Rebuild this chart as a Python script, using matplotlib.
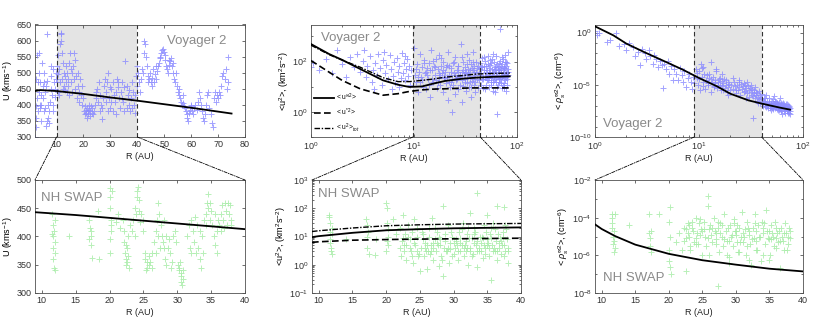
import numpy as np
import matplotlib
matplotlib.use('Agg')
import matplotlib.pyplot as plt
from matplotlib.patches import ConnectionPatch
from matplotlib.ticker import LogLocator, NullFormatter
from matplotlib.lines import Line2D

plt.rcParams['font.family'] = ['Liberation Sans', 'DejaVu Sans']
plt.rcParams['mathtext.fontset'] = 'custom'
plt.rcParams['mathtext.rm'] = 'Liberation Sans'
plt.rcParams['mathtext.it'] = 'Liberation Sans:italic'
plt.rcParams['mathtext.bf'] = 'Liberation Sans:bold'
plt.rcParams['mathtext.sf'] = 'Liberation Sans'

# ---------------- Voyager 2 : solar wind speed ----------------
voy_u_r = [
    2.1, 2.2, 2.3, 2.4, 2.5, 2.6, 2.8, 3.0, 3.2, 3.3,
    3.4, 3.6, 3.7, 3.9, 4.0, 4.1, 4.3, 4.4, 4.6, 4.8,
    5.0, 5.2, 5.3, 5.5, 5.6, 5.8, 6.0, 6.2, 6.3, 6.5,
    6.6, 6.8, 7.0, 7.2, 7.3, 7.5, 7.8, 8.0, 8.1, 8.3,
    8.5, 8.6, 8.8, 9.0, 9.3,
    9.5, 9.7, 9.9, 10.1, 10.2, 10.4, 10.5, 10.7, 10.9, 11.0,
    11.2, 11.3, 11.5, 11.6, 11.8, 12.0, 12.1, 12.3, 12.5, 12.7,
    12.9, 13.0, 13.2, 13.4, 13.6, 13.8, 14.0, 14.2, 14.4, 14.5,
    14.8, 15.0, 15.2, 15.4, 15.6, 15.8, 16.0, 16.3, 16.5, 16.8,
    17.0, 17.3, 17.5, 17.8, 18.0, 18.3, 18.5, 18.8, 19.0, 19.3,
    19.6, 19.9,
    20.2, 20.4, 20.6, 20.8, 21.0, 21.2, 21.4, 21.6, 21.8, 22.0,
    22.2, 22.4, 22.6, 22.8, 23.0, 23.3, 23.6, 23.9, 24.2, 24.5,
    24.8, 25.0, 25.3,
    25.6, 26.0, 26.4, 26.8, 27.2, 27.6, 28.0, 28.4, 28.8, 29.2,
    29.6, 30.0, 30.4, 30.8, 31.2, 31.6, 32.0, 32.4, 32.8, 33.2,
    33.6, 34.0, 34.4, 34.8, 35.2, 35.6, 36.0, 36.4, 36.8, 37.2,
    37.6, 38.0, 38.4, 38.8, 39.2, 39.6, 40.0, 40.3, 39.8,
    26.2, 27.0, 28.2, 29.0, 30.2, 31.0, 32.2, 33.0, 34.2, 35.0,
    36.2, 37.0, 38.2, 39.0, 29.8,
    40.6, 41.0, 41.3, 41.6, 42.0, 42.3, 42.6, 42.9, 43.2, 43.5,
    43.8, 44.1, 44.4, 44.7, 45.0, 45.3, 45.6, 45.9, 46.2, 46.5,
    46.8, 47.1, 47.4, 47.7, 48.0,
    48.3, 48.6, 48.9, 49.2, 49.5, 49.8, 50.1, 50.4, 50.7, 51.0,
    51.3, 51.6, 51.9, 52.2, 52.5, 52.8, 53.1, 53.4, 53.7, 54.0,
    54.3, 54.6,
    55.0, 55.3, 55.6, 55.9, 56.2, 56.5, 56.8, 57.1, 57.4, 57.7,
    58.0, 58.3, 58.6, 58.9, 59.2, 59.5, 59.8, 60.1, 60.4, 60.7,
    61.0, 61.5, 62.0,
    62.5, 63.0, 63.3, 63.6, 64.0, 64.4, 64.8, 65.2, 65.6, 66.0,
    66.4, 66.8, 67.2, 67.6, 68.0, 68.4, 68.8, 69.2, 69.6, 70.0,
    70.4, 70.8, 71.2, 71.6, 72.0, 72.4, 72.8, 73.2, 73.5, 73.7,
]
voy_u = [
    300, 330, 360, 395, 480, 420, 555, 470, 380, 560,
    440, 500, 390, 470, 400, 350, 400, 430, 530, 460,
    420, 500, 380, 470, 390, 440, 335, 460, 350, 475,
    620, 400, 360, 345, 380, 410, 490, 450, 520, 430,
    400, 510, 380, 470, 425,
    450, 500, 480, 520, 470, 440, 555, 495, 430, 510,
    470, 590, 600, 620, 625, 560, 480, 450, 530, 500,
    460, 445, 490, 520, 470, 440, 500, 460, 480, 430,
    530, 560, 510, 470, 440, 500, 520, 560, 480, 450,
    540, 490, 420, 460, 500, 440, 410, 480, 430, 460,
    400, 420,
    380, 370, 395, 385, 375, 360, 390, 380, 370, 400,
    385, 365, 380, 395, 375, 390, 370, 380, 400, 440,
    420, 450, 410,
    470, 430, 400, 355, 420, 460, 480, 440, 470, 500,
    420, 390, 450, 470, 430, 410, 440, 480, 455, 420,
    390, 440, 470, 410, 380, 535, 460, 430, 400, 380,
    420, 470, 440, 400, 375, 490, 520, 500, 460,
    380, 390, 410, 380, 410, 380, 370, 470, 420, 455,
    390, 445, 390, 430, 455,
    470, 440, 480, 510, 500, 560, 598, 590, 550, 520,
    490, 470, 480, 500, 470, 460, 485, 510, 470, 495,
    520, 480, 505, 520, 530,
    545, 550, 560, 570, 575, 565, 555, 540, 520, 510,
    500, 525, 540, 535, 545, 520, 500, 530, 480, 470,
    500, 460,
    440, 430, 450, 420, 410, 400, 430, 405, 395, 390,
    380, 370, 360, 350, 375, 385, 400, 395, 380, 370,
    390, 400, 385,
    410, 440, 420, 400, 380, 360, 350, 370, 400, 430,
    440, 390, 370, 345, 330, 420, 440, 410, 430, 420,
    440, 430, 460, 490, 500, 480, 510, 450, 550, 470,
]
voy_u_model_r = [2, 4, 6, 10, 20, 30, 40, 50, 60, 75]
voy_u_model = [443, 446, 445, 443, 434, 423, 413, 402, 391, 373]

# ---------------- Voyager 2 : velocity fluctuation energy ----------------
voy_e_r = [
    1.0, 1.05, 1.2, 1.4, 1.6, 1.8, 2.0, 2.2, 2.4, 2.6, 2.8, 3.0,
    3.2, 3.4, 3.5, 3.7, 3.9, 4.0, 4.2, 4.4, 4.5, 4.7,
    4.9, 5.0, 5.2, 5.4, 5.6, 5.8, 6.0, 6.2, 6.4, 6.6,
    6.8, 7.0, 7.2, 7.4, 7.6, 7.8, 8.0, 8.2, 8.4, 8.6,
    8.8, 9.0, 9.2, 9.4, 5.1, 6.1, 7.1, 4.1, 3.3, 8.1,
    10.0, 10.2, 10.5, 10.8, 11.0, 11.2, 11.5, 11.8, 12.0, 12.2,
    12.5, 12.8, 13.0, 13.3, 13.6, 14.0, 14.3, 14.6, 15.0, 15.3,
    15.6, 16.0, 16.3, 16.6, 17.0, 17.3, 17.6, 18.0, 18.3, 18.6,
    19.0, 19.3, 19.6, 20.0, 20.4, 20.8, 21.2, 21.6, 22.0, 22.4,
    22.8, 23.2, 23.6, 24.0, 24.4, 24.8, 25.2, 25.6, 26.0, 26.5,
    27.0, 27.5, 28.0, 28.5, 29.0, 29.5, 30.0, 30.5, 31.0, 31.5,
    32.0, 32.5, 33.0, 33.5, 34.0, 34.5, 35.0, 35.5, 36.0, 36.5,
    37.0, 37.5, 38.0, 38.5, 39.0, 39.5, 40.0, 40.5, 41.0, 42.0,
    43.0,
    11, 13, 15, 17, 19, 21, 23, 25, 27, 29,
    31, 33, 35, 37, 39, 12, 16, 20, 24, 28,
    32, 36, 14, 18, 22, 26, 30, 34, 38,
    44, 45, 46, 47, 48, 49, 50, 51, 52, 53,
    54, 55, 56, 57, 58, 59, 60, 61, 62, 63,
    64, 65, 66, 67, 68, 69, 70, 71, 72, 73,
    74, 75, 76, 77, 78, 79, 80, 81, 82,
    44.5, 45.5, 46.5, 47.5, 48.5, 49.5, 50.5, 51.5, 52.5, 53.5,
    54.5, 55.5, 56.5, 57.5, 58.5, 59.5, 60.5, 61.5, 62.5, 63.5,
    64.5, 65.5, 66.5, 67.5, 68.5, 69.5, 70.5, 71.5, 72.5, 73.5,
    74.5, 75.5, 76.5, 77.5, 78.5, 79.5, 80.5, 81.5,
    42.5, 43.5, 44.2, 45.2, 46.2, 47.2, 48.2, 49.2, 50.2, 51.2,
    52.2, 53.2, 54.2, 55.2, 56.2, 57.2, 58.2, 59.2, 60.2, 61.2,
    62.2, 63.2, 64.2, 65.2, 66.2, 67.2, 68.2, 69.2, 70.2, 71.2,
    72.2, 73.2, 74.2, 75.2, 76.2, 77.2, 78.2, 79.2, 80.2, 81.2,
    10.4, 11.4, 12.4, 13.4, 14.4, 15.4, 16.4, 17.4, 18.4, 19.4,
    20.6, 21.8, 23.0, 24.2, 25.4, 26.6, 27.8, 29.0, 30.2, 31.4,
    32.6, 33.8, 35.0, 36.2, 37.4, 38.6, 39.8, 41.5,
]
voy_e = [
    60, 90, 45, 130, 35, 290, 80, 25, 150, 60, 200, 40,
    110, 25, 70, 160, 15, 45, 90, 30, 200, 55,
    12, 120, 35, 75, 20, 180, 50, 28, 95, 14,
    140, 40, 65, 22, 220, 35, 85, 18, 50, 130,
    27, 70, 12, 45, 250, 8, 10, 8, 300, 160,
    350, 30, 15, 80, 6, 40, 200, 25, 60, 10,
    120, 35, 8, 55, 20, 90, 4, 300, 45, 15,
    70, 30, 130, 9, 50, 22, 180, 12, 65, 35,
    6, 100, 25, 40, 14, 75, 3, 250, 30, 10,
    55, 20, 1, 85, 35, 5, 150, 18, 45, 8,
    70, 25, 12, 500, 40, 2.5, 95, 30, 15, 60,
    7, 200, 22, 50, 10, 120, 28, 4, 80, 17,
    45, 250, 12, 65, 30, 6, 100, 20, 55, 9,
    35,
    25, 40, 20, 15, 45, 25, 15, 30, 40, 18,
    35, 14, 45, 20, 15, 18, 60, 22, 12, 28,
    38, 10, 12, 30, 70, 20, 11, 32, 40,
    30, 12, 60, 25, 150, 8, 40, 18, 80, 35,
    10, 120, 22, 50, 15, 200, 30, 6, 70, 25,
    0.8, 45, 12, 90, 20, 2000, 35, 9, 150, 28,
    55, 14, 100, 30, 7, 65, 20, 40, 250,
    60, 20, 9, 45, 25, 70, 12, 30, 18, 55,
    40, 15, 90, 28, 7, 45, 60, 20, 35, 10,
    80, 25, 40, 15, 55, 22, 70, 30, 12, 45,
    25, 60, 18, 35, 100, 28, 12, 50,
    18, 50, 90, 35, 140, 20, 65, 110, 25, 45,
    160, 22, 75, 30, 12, 130, 40, 18, 100, 50,
    15, 170, 28, 60, 20, 45, 110, 14, 50, 80,
    24, 130, 38, 9, 55, 180, 25, 40, 90, 30,
    50, 15, 90, 30, 45, 110, 18, 35, 140, 25,
    60, 16, 40, 100, 22, 65, 30, 150, 45, 20,
    80, 35, 15, 55, 100, 25, 40, 70,
]
voy_model_r = [1, 1.5, 2, 3, 5, 7, 9, 12, 15, 20, 30, 40, 60, 85]
voy_e_inf = [500, 200, 118, 51, 18, 12, 9.8, 10.3, 13, 17, 21, 23, 25, 26]
voy_e_star = [110, 38, 18, 8.3, 4.6, 5.3, 6.5, 7.5, 8, 8.3, 8.8, 9, 9, 9]
voy_e_tot = [450, 190, 115, 60, 23, 16, 16, 18, 20, 24, 28, 32, 34, 35]

# ---------------- Voyager 2 : density fluctuations ----------------
voy_d_r = [
    1.0, 1.05, 1.1, 1.3, 1.4, 1.6, 1.7, 1.9, 2.0, 2.1,
    2.3, 2.4, 2.6, 2.7, 2.8, 3.0, 3.1, 3.3, 3.4, 3.6,
    3.7, 3.9, 4.0, 4.2, 4.4, 4.5, 4.6, 4.8, 5.0, 5.2,
    5.4, 5.6, 5.8, 6.0, 6.3, 6.5, 6.8, 7.0, 7.2, 7.5,
    7.8, 8.0, 8.3, 8.6, 8.8, 9.0,
    9.3, 9.5, 9.8, 10.0, 10.3, 10.6, 10.9, 11.2, 11.5, 11.8,
    12.0, 12.3, 12.6, 12.9, 13.2, 13.5, 13.8, 14.1, 14.4, 14.7,
    15.0, 15.3, 15.6, 15.9, 16.2, 16.5, 16.8, 17.1, 17.4, 17.7,
    18.0, 18.4, 18.8, 19.2, 19.6, 20.0, 10.1, 11.0, 12.2, 13.0,
    14.0, 15.1, 16.0, 17.0, 18.2, 19.0, 9.6, 10.8, 12.5,
    11.0, 13.0, 14.5, 16.8, 10.5,
    20.5, 21, 21.5, 22, 22.5, 23, 23.5, 24, 24.5, 25,
    25.5, 26, 26.5, 27, 27.5, 28, 28.5, 29, 29.5, 30,
    30.5, 31, 31.5, 32, 32.5, 33, 33.5, 34, 34.5, 35,
    35.5, 36, 36.5, 37, 37.5, 38, 38.5, 39, 39.5, 40,
    21.2, 24.2, 26.8, 29.2, 31.8, 34.8, 22.8, 27.8, 32.8, 36.8,
    40.5, 41, 42, 43, 44, 45, 46, 47, 48, 49,
    50, 51, 52, 53, 54, 55, 56, 57, 58, 59,
    60, 61, 62, 63, 64, 65, 66, 67, 68, 69,
    70, 71, 72, 73, 74, 75, 41.5, 43.5, 45.5, 47.5,
    49.5, 51.5, 53.5, 55.5, 57.5, 59.5, 61.5, 63.5, 65.5, 67.5,
    69.5, 71.5, 73.5, 74.5, 44.5, 52.5, 60.5,
    40.8, 42.5, 44.0, 45.8, 47.8, 49.8, 51.8, 53.8, 55.8, 57.8,
    59.8, 61.8, 63.8, 65.8, 67.8, 69.8, 71.8, 73.8, 42.8, 46.8,
    50.8, 54.8, 58.8, 62.8, 66.8, 70.8, 74.8, 48.8, 56.8, 64.8,
]
voy_d = [
    1.5, 0.6, 0.9, 0.12, 0.2, 1.0, 0.05, 0.08, 0.02, 0.1,
    0.04, 0.006, 0.015, 8e-4, 0.03, 0.01, 0.003, 0.02, 0.006, 0.001,
    0.008, 0.003, 5e-4, 0.002, 8e-4, 5e-6, 0.001, 3e-4, 0.002, 1e-4,
    6e-4, 3e-5, 3e-4, 1e-4, 3e-5, 4e-4, 8e-5, 2e-5, 2e-4, 6e-6,
    5e-5, 1e-4, 2e-5, 4e-6, 6e-5, 1.5e-5,
    3e-4, 5e-5, 1e-5, 2e-4, 3e-6, 6e-5, 2e-5, 1e-4, 4e-6, 3e-5,
    8e-5, 1e-5, 5e-5, 2e-6, 2e-5, 6e-5, 8e-6, 3e-5, 1.5e-5, 3e-4,
    5e-6, 2e-5, 4e-5, 1e-5, 3e-6, 2.5e-5, 7e-6, 1.5e-5, 4e-5, 5e-6,
    1e-5, 2e-6, 2e-5, 6e-6, 1.2e-5, 3e-6, 4e-5, 8e-6, 1.5e-5, 4e-5,
    6e-6, 1e-5, 5e-5, 3e-6, 3e-5, 1e-6, 1.5e-4, 4e-4, 1.2e-4,
    5e-4, 1.5e-3, 2e-4, 1e-4, 1e-3,
    1e-5, 4e-6, 2e-5, 8e-6, 1.5e-6, 1e-5, 3e-6, 2e-5, 6e-6, 1e-6,
    1.2e-5, 4e-6, 8e-6, 2e-6, 1e-5, 5e-7, 5e-6, 1.5e-6, 8e-6, 3e-6,
    7e-7, 5e-6, 2e-6, 1e-6, 4e-6, 6e-9, 1.5e-6, 3e-6, 5e-7, 2e-6,
    1e-6, 3e-7, 1.5e-6, 7e-7, 2.5e-6, 4e-7, 1e-6, 2e-7, 6e-7, 1.2e-6,
    5e-5, 3e-5, 1.5e-5, 2e-5, 1e-5, 6e-6, 3e-6, 2.5e-6, 8e-7, 2e-7,
    4e-7, 1e-7, 6e-7, 2e-7, 8e-8, 3e-7, 1.2e-7, 5e-7, 6e-8, 2e-7,
    1e-7, 4e-7, 5e-8, 1.5e-7, 3e-7, 8e-8, 2e-7, 4e-8, 1e-7, 2.5e-7,
    6e-8, 1.2e-7, 3e-8, 8e-8, 2e-7, 5e-8, 1e-7, 2e-8, 6e-8, 1.5e-7,
    4e-8, 8e-8, 2e-8, 5e-8, 1e-7, 3e-8, 2.5e-7, 5e-7, 1e-7, 2e-7,
    4e-8, 1.5e-7, 6e-8, 2.5e-7, 1e-7, 5e-8, 2e-7, 1.5e-8, 1.5e-7, 7e-8,
    3e-8, 1.2e-7, 8e-8, 1.5e-8, 1e-6, 8e-7, 5e-7,
    1.5e-7, 3e-7, 1.5e-7, 6e-8, 1e-7, 3e-7, 8e-8, 2e-7, 5e-8, 1.5e-7,
    1e-7, 4e-8, 1.2e-7, 3e-8, 1e-7, 6e-8, 4e-8, 2e-8, 1e-7, 2.5e-7,
    6e-8, 1.2e-7, 4e-8, 1.5e-7, 5e-8, 1.5e-7, 6e-8, 1.2e-7, 2e-7, 8e-8,
]
voy_d_model_r = [1, 1.5, 2, 3, 5, 7, 10, 15, 20, 30, 40, 60, 75]
voy_d_model = [4, 0.55, 0.089, 0.013, 1.3e-3, 2.8e-4, 4.5e-5, 6.9e-6,
               1.4e-6, 3.2e-7, 1.6e-7, 6.5e-8, 4.2e-8]

# ---------------- New Horizons SWAP ----------------
nh_u_r = [
    11.5, 11.6, 11.6, 11.7, 11.7, 11.8, 11.8, 11.9, 12.0, 11.5,
    11.9, 12.0, 14.0, 17.0, 17.1, 17.2, 17.2, 17.3, 17.4, 17.0,
    18.3, 18.4, 20.0, 20.1, 20.1, 20.2, 20.2, 20.1, 20.0, 20.3,
    20.2, 21.0, 21.2, 21.5, 22.0, 22.1, 22.2, 22.3, 22.4, 22.5,
    22.6, 22.7, 22.8, 22.9, 23.0, 22.4, 22.6, 23.3, 23.5, 23.7,
    23.9, 24.0, 24.1, 24.2, 24.3, 24.4, 24.5, 24.7, 24.9, 25.0,
    23.8, 25.2, 25.3, 25.5, 25.6, 25.8, 25.9, 26.0, 26.2, 26.3,
    25.4, 26.6, 26.8, 27.0, 27.2, 27.3, 27.1, 27.4, 26.9, 27.6,
    27.8, 28.0, 28.2, 28.4, 28.1, 27.9, 28.3, 28.6, 28.8, 29.0,
    29.2, 29.4, 29.6, 29.8, 29.1, 30.1, 30.3, 30.5, 30.6, 30.7,
    30.8, 30.9, 30.4, 30.2, 30.6, 31.5, 31.7, 31.9, 32.1, 32.3,
    32.5, 32.7, 32.9, 32.0, 32.6, 33.1, 33.3, 33.5, 33.7, 33.9,
    33.4, 33.8, 34.2, 34.4, 34.5, 34.6, 34.8, 34.9, 34.3, 35.0,
    35.2, 35.4, 35.6, 35.8, 35.9, 36.0, 35.5, 36.2, 36.4, 36.6,
    36.8, 37.0, 37.2, 37.4, 37.6, 37.8, 38.0, 36.5, 37.5, 36.9,
    37.9,
]
nh_u = [
    440, 420, 400, 380, 360, 410, 345, 390, 370, 405,
    430, 340, 400, 430, 415, 400, 385, 410, 362, 395,
    445, 360, 485, 470, 450, 430, 410, 395, 370, 480,
    420, 425, 440, 415, 430, 410, 390, 370, 360, 350,
    380, 400, 365, 345, 420, 385, 355, 410, 430, 450,
    440, 470, 480, 487, 465, 445, 425, 440, 410, 430,
    400, 370, 360, 355, 345, 350, 365, 355, 345, 370,
    340, 390, 410, 430, 460, 440, 400, 380, 370, 420,
    400, 380, 360, 350, 430, 390, 400, 380, 395, 370,
    355, 400, 410, 390, 345, 350, 340, 330, 320, 315,
    325, 340, 355, 345, 335, 400, 420, 380, 430, 410,
    390, 370, 420, 370, 435, 380, 360, 345, 400, 430,
    410, 370, 440, 460, 475, 450, 430, 460, 420, 445,
    420, 400, 385, 370, 410, 430, 440, 420, 440, 455,
    430, 460, 445, 420, 440, 455, 430, 410, 460, 415,
    420,
]
nh_u_model_r = [9, 15, 20, 25, 30, 35, 40]
nh_u_model = [443, 438, 433, 428, 423, 418, 413]

nh_e_r = [
    11.5, 11.6, 11.7, 11.7, 11.8, 11.8, 11.9, 11.6, 11.9, 12.0,
    11.5, 14.0, 17.0, 17.1, 17.2, 17.2, 17.4, 17.3, 18.3, 18.5,
    20.0, 20.1, 20.1, 20.2, 20.2, 20.0, 20.3, 20.1, 21.0, 21.5,
    22.0, 22.0, 22.2, 22.4, 22.5, 22.6, 22.8, 23.0, 23.0, 23.3,
    23.5, 23.7, 23.9, 24.0, 24.2, 24.3, 24.5, 24.7, 25.0, 25.2,
    25.4, 25.6, 25.8, 26.0, 26.2, 26.4, 26.6, 26.8, 27.0, 27.2,
    27.4, 27.6, 27.8, 28.0, 28.2, 28.5, 28.5, 28.7, 28.9, 29.1,
    29.3, 29.5, 29.7, 30.0, 30.2, 30.4, 30.6, 30.8, 31.0, 31.2,
    31.4, 31.6, 31.8, 32.0, 32.2, 32.4, 32.5, 32.7, 32.9, 33.1,
    33.3, 33.5, 33.5, 33.7, 33.9, 34.1, 34.3, 34.5, 34.7, 34.9,
    35.0, 35.2, 35.4, 35.5, 35.7, 35.9, 36.1, 36.3, 36.5, 36.5,
    36.7, 36.9, 37.1, 37.3, 37.5, 37.5, 37.7, 37.9, 38.0, 26.0,
    27.0, 28.0, 29.0, 30.0, 31.0, 32.0, 33.0, 34.0, 35.0, 36.0,
    37.0, 38.0, 25.5, 26.5, 27.5, 29.5, 30.5, 31.5, 32.5, 33.5,
    34.5, 35.5, 36.5, 37.5, 24.5, 23.5, 22.5,
    24.2, 24.8, 25.3, 25.7, 26.3, 26.7, 27.3, 27.7, 28.3, 28.8,
    29.2, 29.8, 30.3, 30.7, 31.3, 31.7, 32.3, 32.8, 33.2, 33.8,
    34.2, 34.6, 35.1, 35.6, 36.2, 36.6, 37.2, 37.6, 38.0, 22.7,
    23.2, 23.8, 24.6, 25.9, 26.9, 27.9, 28.6, 29.6, 30.9, 31.9,
    32.1, 33.4, 34.4, 34.8, 35.3, 35.8, 36.8, 37.4, 37.8, 33.0,
]
nh_e = [
    50, 30, 15, 8, 4, 3, 12, 6, 20, 2.5,
    60, 8, 40, 25, 10, 4, 2.5, 15, 2.2, 8,
    150, 100, 30, 10, 5, 3, 18, 7, 40, 12,
    4, 20, 2, 7, 60, 3, 12, 5, 1.5, 25,
    8, 3, 15, 1.2, 40, 5, 10, 2, 0.6, 4,
    12, 2, 6, 0.7, 3, 20, 5, 45, 1.5, 8,
    3, 15, 0.9, 5, 2, 120, 0.4, 7, 3, 25,
    1.2, 6, 10, 2.5, 4, 8, 1.5, 15, 3, 5,
    30, 2, 7, 12, 1, 4, 70, 9, 2.5, 20,
    5, 350, 0.8, 3, 10, 6, 1.8, 25, 4, 8,
    60, 2, 12, 0.3, 5, 3, 18, 7, 120, 1.5,
    4, 9, 2.5, 15, 110, 5, 3, 8, 1.2, 5,
    4, 8, 3, 6, 9, 4, 6, 3, 5, 4,
    7, 3, 8, 2.5, 6, 3.5, 5, 4, 3, 7,
    5, 9, 3, 2, 3, 4, 9,
    6, 2.5, 15, 4, 10, 3, 20, 5, 1.5, 12,
    4, 2, 7, 3, 18, 5, 9, 2, 14, 4,
    10, 2.5, 6, 20, 3, 12, 5, 25, 4, 5,
    10, 2, 20, 3, 6, 10, 4, 15, 6, 3,
    20, 3, 9, 15, 4, 30, 6, 10, 18, 12,
]
nh_model_r = [9, 10, 15, 20, 25, 30, 35, 40]
nh_e_inf = [9.5, 10.3, 13.5, 16.6, 18.2, 19.5, 20.3, 21]
nh_e_star = [6.2, 6.5, 7.4, 7.8, 8.1, 8.3, 8.5, 8.7]
nh_e_tot = [15, 16, 20, 24, 26, 27.5, 28.3, 29]

nh_d_r = [
    11.5, 11.6, 11.6, 11.7, 11.7, 11.8, 11.8, 11.9, 12.0, 11.5,
    12.0, 14.0, 17.0, 17.0, 17.2, 17.2, 17.3, 17.4, 18.5, 20.2,
    20.1, 20.2, 20.0, 20.1, 20.3, 20.2, 21.0, 21.5, 22.0, 22.3,
    22.5, 22.6, 22.8, 23.0, 23.2, 23.4, 23.6, 23.8, 24.0, 24.2,
    24.4, 24.6, 24.8, 25.0, 25.2, 25.4, 25.6, 25.9, 25.9, 26.1,
    26.3, 26.5, 26.7, 26.9, 27.1, 27.4, 27.3, 27.5, 27.7, 27.9,
    28.1, 28.3, 28.5, 28.7, 28.9, 29.1, 29.3, 29.5, 29.7, 29.9,
    30.1, 30.3, 30.5, 30.7, 30.9, 31.1, 31.3, 31.5, 31.7, 31.9,
    32.1, 32.3, 32.5, 32.7, 32.9, 33.1, 33.3, 33.5, 33.7, 33.9,
    34.1, 34.3, 34.5, 34.7, 34.9, 35.1, 35.3, 35.5, 35.7, 35.9,
    36.1, 36.3, 36.5, 36.7, 36.9, 37.1, 37.3, 37.5, 37.7, 37.9,
    38.0, 23.0, 25.0, 27.0, 29.0, 31.0, 33.0, 35.0, 37.0, 24.0,
    26.0, 28.0, 30.0, 32.0, 34.0, 36.0, 38.0, 22.5, 30.5, 33.0,
    36.0, 35.0, 32.0, 29.0,
    22.2, 22.9, 23.5, 24.1, 24.7, 25.3, 25.8, 26.4, 27.0, 27.6,
    28.2, 28.8, 29.4, 30.0, 30.6, 31.2, 31.8, 32.4, 33.0, 33.6,
    34.2, 34.8, 35.4, 36.0, 36.6, 37.2, 37.8, 23.1, 24.5, 26.0,
    27.4, 28.6, 30.2, 31.6, 32.8, 34.0, 35.2, 36.4, 37.6, 29.7,
]
nh_d = [
    1.5e-4, 1e-4, 3e-5, 1e-5, 4e-6, 1.5e-6, 2e-5, 6e-6, 1.5e-4, 5e-5,
    2.5e-6, 4e-5, 1.5e-4, 1.5e-5, 8e-6, 3e-6, 1.5e-6, 2e-5, 1.5e-4, 3.5e-4,
    6e-5, 1e-5, 2e-6, 5e-7, 1e-7, 2.5e-7, 5e-6, 1.5e-5, 2e-6, 3e-5,
    8e-6, 1.5e-7, 5e-5, 1e-5, 3e-6, 6e-5, 2e-5, 5e-6, 1e-4, 1.5e-5,
    4e-6, 8e-5, 2.5e-5, 1e-6, 6e-5, 1e-5, 3e-6, 1.5e-3, 4e-4, 4e-5,
    1.2e-5, 5e-6, 1e-4, 2e-5, 7e-6, 2.5e-8, 3e-5, 1.5e-6, 5e-5, 1e-5,
    3e-6, 1.5e-4, 2e-5, 6e-6, 4e-7, 4e-5, 1e-5, 3e-6, 8e-5, 2e-5,
    5e-6, 1.5e-6, 3e-5, 1e-5, 2e-4, 5e-6, 2.5e-5, 1e-6, 6e-5, 1.2e-5,
    4e-6, 3e-7, 3e-5, 8e-6, 1.5e-4, 2e-6, 4e-5, 1e-5, 5e-7, 6e-5,
    1.5e-5, 4e-6, 2.5e-4, 2e-5, 7e-6, 1e-6, 4e-5, 1e-5, 3e-6, 6e-5,
    1.5e-5, 5e-6, 2e-7, 3e-5, 1e-5, 2e-6, 5e-5, 1.5e-5, 4e-6, 3e-5,
    8e-6, 4e-5, 2e-5, 1.5e-5, 6e-6, 1.5e-5, 6e-6, 2e-5, 6e-6, 8e-6,
    2.5e-5, 4e-5, 1.2e-5, 2e-5, 3e-5, 8e-6, 2e-5, 2.5e-5, 1.5e-6, 2e-6,
    2.5e-6, 6e-7, 6e-7, 8e-7,
    6e-6, 1.5e-5, 3e-5, 4e-6, 1.2e-5, 2.5e-5, 8e-6, 3e-5, 4e-6, 1.5e-5,
    7e-6, 3e-5, 1.2e-5, 2e-5, 5e-6, 1e-5, 3e-5, 7e-6, 2e-5, 1e-5,
    5e-5, 8e-6, 1.5e-5, 3e-5, 6e-6, 1.5e-5, 1e-5, 2e-6, 5e-5, 1e-6,
    6e-5, 1e-6, 4e-5, 3e-6, 5e-5, 1e-6, 7e-6, 2e-5, 2e-6, 5e-5,
]
nh_d_model_r = [9, 10, 12, 15, 20, 25, 30, 35, 40]
nh_d_model = [4.4e-5, 2.5e-5, 1.05e-5, 3.7e-6, 1.2e-6, 5.5e-7, 3.2e-7, 1.95e-7, 1.4e-7]

# ---------------- labels ----------------
xlabel = 'R (AU)'
ylab_u = r'U (kms$^{-1}$)'
ylab_e = r'<u$^{2}$>, (km$^{2}$s$^{-2}$)'
ylab_d = r'< $\rho_s^{\infty2}$>, (cm$^{-6}$)'
leg_labels = [r'< u$^{\infty2}$>', r'< u$^{*2}$>', r'< u$^{2}$>$_{tot}$']

VOY_C = '#8c8cff'
NH_C = '#a6eca6'
SHADE = '#e4e4e4'
TXT_C = '#8a8a8a'

W, H = 830, 330
fig = plt.figure(figsize=(8.3, 3.3), dpi=100)


def px_axes(l, r, t, b):
    return fig.add_axes([l / W, 1 - b / H, (r - l) / W, (b - t) / H])


def style(ax):
    for s in ax.spines.values():
        s.set_color('#505050')
        s.set_linewidth(0.6)
    ax.tick_params(which='both', direction='in', top=True, right=True,
                   labelsize=6.5, colors='#333333', width=0.5, pad=2.5)
    ax.tick_params(which='major', length=2.5)
    ax.tick_params(which='minor', length=1.3)
    ax.set_xlabel(xlabel, fontsize=6.5, color='#222222', labelpad=1.5)


def pts(ax, x, y, c):
    n = min(len(x), len(y))
    ax.plot(x[:n], y[:n], ls='none', marker='+', ms=5, mew=0.7,
            color=c, alpha=0.8, zorder=2)


def shade(ax, a, b):
    ax.axvspan(a, b, color=SHADE, zorder=0, lw=0)
    for v in (a, b):
        ax.axvline(v, color='#333333', lw=0.8, ls=(0, (4, 2.5)), zorder=3)


ax1 = px_axes(35, 245, 24.5, 137)
ax2 = px_axes(311, 517, 24.5, 137)
ax3 = px_axes(595, 803, 24.5, 137)
ax4 = px_axes(35, 245, 180, 293)
ax5 = px_axes(312, 521, 180, 293)
ax6 = px_axes(595, 803, 180, 293)

# --- top left
shade(ax1, 10, 40)
pts(ax1, voy_u_r, voy_u, VOY_C)
ax1.plot(voy_u_model_r, voy_u_model, color='k', lw=1.3, zorder=4)
ax1.set_xlim(2, 80)
ax1.set_ylim(300, 650)
ax1.set_xticks(range(10, 81, 10))
ax1.set_yticks(range(300, 651, 50))
ax1.set_ylabel(ylab_u, fontsize=6.5, labelpad=1)
style(ax1)
ax1.text(0.63, 0.85, 'Voyager 2', transform=ax1.transAxes, fontsize=9.5,
         color=TXT_C, va='center', ha='left')

# --- top middle
shade(ax2, 9.75, 44)
pts(ax2, voy_e_r, voy_e, VOY_C)
ax2.plot(voy_model_r, voy_e_inf, color='k', lw=1.3, zorder=4)
ax2.plot(voy_model_r, voy_e_star, color='k', lw=1.2, ls=(0, (4, 2)), zorder=4)
ax2.plot(voy_model_r, voy_e_tot, color='k', lw=1.0, ls=(0, (4, 1.2, 1, 1.2)), zorder=4)
ax2.set_xscale('log')
ax2.set_yscale('log')
ax2.set_xlim(1, 100)
ax2.set_ylim(0.1, 3000)
ax2.set_xticks([1, 10, 100])
ax2.set_yticks([1, 100])
ax2.yaxis.set_minor_locator(LogLocator(base=10, subs=[1.0], numticks=20))
ax2.yaxis.set_minor_formatter(NullFormatter())
ax2.xaxis.set_minor_formatter(NullFormatter())
ax2.set_ylabel(ylab_e, fontsize=6.5, labelpad=1)
style(ax2)
ax2.text(0.05, 0.88, 'Voyager 2', transform=ax2.transAxes, fontsize=9.5,
         color=TXT_C, va='center', ha='left')
handles = [Line2D([], [], color='k', lw=1.3),
           Line2D([], [], color='k', lw=1.2, ls=(0, (4, 2))),
           Line2D([], [], color='k', lw=1.0, ls=(0, (4, 1.2, 1, 1.2)))]
ax2.legend(handles, leg_labels, loc='lower left', bbox_to_anchor=(-0.01, -0.02),
           fontsize=4.8, frameon=False, handlelength=3.0, handletextpad=0.2,
           labelspacing=0.55, borderpad=0.3)

# --- top right
shade(ax3, 9, 40)
pts(ax3, voy_d_r, voy_d, VOY_C)
ax3.plot(voy_d_model_r, voy_d_model, color='k', lw=1.3, zorder=4)
ax3.set_xscale('log')
ax3.set_yscale('log')
ax3.set_xlim(1, 100)
ax3.set_ylim(1e-10, 6)
ax3.set_xticks([1, 10, 100])
ax3.set_yticks([1e-10, 1e-5, 1])
ax3.yaxis.set_minor_locator(LogLocator(base=10, subs=[1.0], numticks=30))
ax3.yaxis.set_minor_formatter(NullFormatter())
ax3.xaxis.set_minor_formatter(NullFormatter())
ax3.set_ylabel(ylab_d, fontsize=6.5, labelpad=1)
style(ax3)
ax3.text(0.04, 0.12, 'Voyager 2', transform=ax3.transAxes, fontsize=9.5,
         color=TXT_C, va='center', ha='left')

# --- bottom left
pts(ax4, nh_u_r, nh_u, NH_C)
ax4.plot(nh_u_model_r, nh_u_model, color='k', lw=1.3, zorder=4)
ax4.set_xlim(9, 40)
ax4.set_ylim(300, 500)
ax4.set_xticks(range(10, 41, 5))
ax4.set_yticks(range(300, 501, 50))
ax4.set_ylabel(ylab_u, fontsize=6.5, labelpad=1)
style(ax4)
ax4.text(0.03, 0.84, 'NH SWAP', transform=ax4.transAxes, fontsize=9.5,
         color=TXT_C, va='center', ha='left')

# --- bottom middle
pts(ax5, nh_e_r, nh_e, NH_C)
ax5.plot(nh_model_r, nh_e_inf, color='k', lw=1.3, zorder=4)
ax5.plot(nh_model_r, nh_e_star, color='k', lw=1.2, ls=(0, (4, 2)), zorder=4)
ax5.plot(nh_model_r, nh_e_tot, color='k', lw=1.0, ls=(0, (4, 1.2, 1, 1.2)), zorder=4)
ax5.set_yscale('log')
ax5.set_xlim(9, 40)
ax5.set_ylim(0.1, 1000)
ax5.set_xticks(range(10, 41, 5))
ax5.set_yticks([0.1, 1, 10, 100, 1000])
ax5.yaxis.set_minor_formatter(NullFormatter())
ax5.set_ylabel(ylab_e, fontsize=6.5, labelpad=1)
style(ax5)
ax5.text(0.03, 0.88, 'NH SWAP', transform=ax5.transAxes, fontsize=9.5,
         color=TXT_C, va='center', ha='left')

# --- bottom right
pts(ax6, nh_d_r, nh_d, NH_C)
ax6.plot(nh_d_model_r, nh_d_model, color='k', lw=1.3, zorder=4)
ax6.set_yscale('log')
ax6.set_xlim(9, 40)
ax6.set_ylim(1e-8, 1e-2)
ax6.set_xticks(range(10, 41, 5))
ax6.set_yticks([1e-8, 1e-6, 1e-4, 1e-2])
ax6.yaxis.set_minor_locator(LogLocator(base=10, subs=[1.0], numticks=20))
ax6.yaxis.set_minor_formatter(NullFormatter())
ax6.set_ylabel(ylab_d, fontsize=6.5, labelpad=1)
style(ax6)
ax6.text(0.04, 0.13, 'NH SWAP', transform=ax6.transAxes, fontsize=9.5,
         color=TXT_C, va='center', ha='left')

# --- zoom connectors
links = [
    (ax1, (10, 300), ax4, (9, 500)), (ax1, (40, 300), ax4, (40, 500)),
    (ax2, (9.75, 0.1), ax5, (9, 1000)), (ax2, (44, 0.1), ax5, (40, 1000)),
    (ax3, (9, 1e-10), ax6, (9, 1e-2)), (ax3, (40, 1e-10), ax6, (40, 1e-2)),
]
for a, pa, b, pb in links:
    cp = ConnectionPatch(xyA=pa, coordsA=a.transData, xyB=pb, coordsB=b.transData,
                         color='k', lw=0.6, ls=(0, (4, 1.5, 1, 1.5)))
    fig.add_artist(cp)

fig.savefig('out.png', dpi=100)
